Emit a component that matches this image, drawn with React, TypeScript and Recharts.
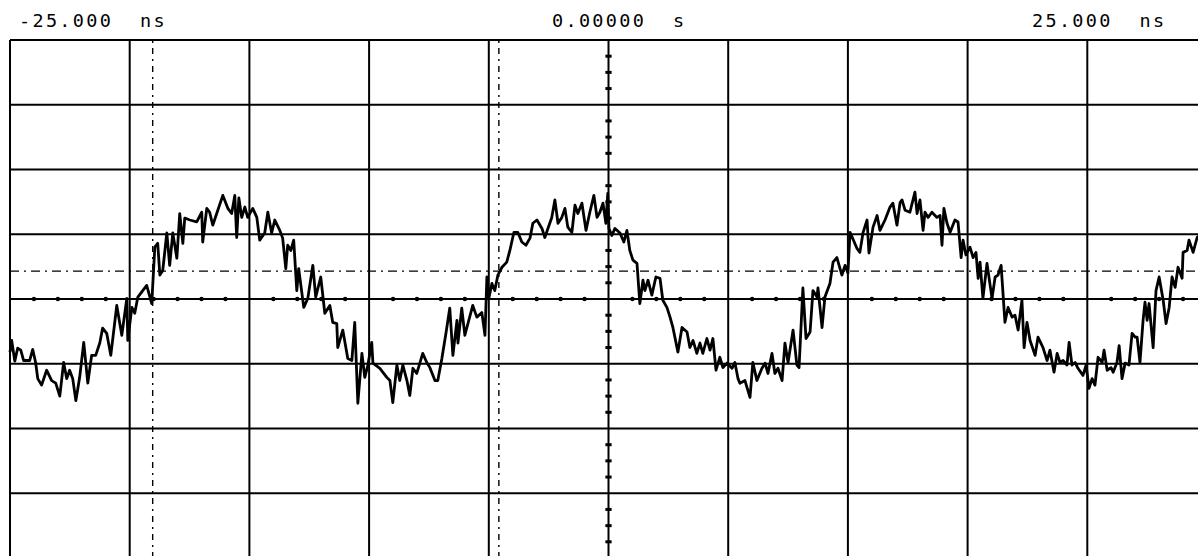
import React from "react";
import { LineChart, Line, XAxis, YAxis, ReferenceLine, ReferenceDot } from "recharts";

// Time base (ns) of each sampled point
const timesNs = [
  -25.0, -24.93, -24.8, -24.68, -24.55, -24.43, -24.18, -24.05, -23.93, -23.84,
  -23.68, -23.47, -23.26, -23.09, -22.92, -22.76, -22.63, -22.51, -22.38, -22.25,
  -22.09, -21.92, -21.75, -21.59, -21.42, -21.25, -21.13, -20.96, -20.79, -20.54,
  -20.33, -20.12, -20.08, -19.91, -19.79, -19.66, -19.29, -19.08, -18.95, -18.83,
  -18.74, -18.62, -18.45, -18.33, -18.2, -18.03, -17.91, -17.78, -17.7, -17.49,
  -17.2, -16.99, -16.95, -16.78, -16.66, -16.53, -16.32, -16.11, -15.9, -15.74,
  -15.61, -15.53, -15.44, -15.32, -15.19, -15.07, -14.86, -14.69, -14.57, -14.36,
  -14.23, -14.07, -13.94, -13.73, -13.61, -13.48, -13.4, -13.27, -13.15, -13.02,
  -12.94, -12.73, -12.56, -12.35, -12.23, -12.02, -11.85, -11.64, -11.52, -11.35,
  -11.31, -11.1, -10.89, -10.72, -10.6, -10.47, -10.3, -10.18, -10.05, -9.89,
  -9.84, -9.55, -9.26, -9.13, -9.01, -8.84, -8.72, -8.59, -8.42, -8.3,
  -8.17, -8.01, -7.88, -7.76, -7.59, -7.46, -7.25, -7.13, -6.96, -6.79,
  -6.63, -6.5, -6.33, -6.29, -6.13, -6.0, -5.67, -5.5, -5.29, -5.16,
  -5.08, -5.0, -4.87, -4.75, -4.62, -4.45, -4.25, -4.12, -3.95, -3.79,
  -3.62, -3.45, -3.28, -3.16, -2.99, -2.78, -2.66, -2.53, -2.37, -2.24,
  -2.11, -1.95, -1.82, -1.7, -1.53, -1.4, -1.28, -1.11, -0.94, -0.78,
  -0.61, -0.48, -0.36, -0.23, -0.11, -0.03, 0.02, 0.14, 0.27, 0.48,
  0.64, 0.77, 0.89, 1.02, 1.19, 1.31, 1.44, 1.52, 1.65, 1.81,
  1.98, 2.15, 2.27, 2.44, 2.57, 2.69, 2.9, 3.07, 3.28, 3.4,
  3.53, 3.69, 3.82, 3.94, 4.11, 4.24, 4.36, 4.49, 4.65, 4.78,
  4.95, 5.16, 5.28, 5.41, 5.49, 5.7, 5.91, 6.03, 6.2, 6.41,
  6.54, 6.66, 6.83, 6.95, 7.08, 7.25, 7.37, 7.5, 7.71, 7.87,
  7.96, 8.12, 8.25, 8.42, 8.54, 8.71, 8.75, 8.92, 9.04, 9.25,
  9.38, 9.54, 9.75, 9.88, 10.0, 10.09, 10.38, 10.5, 10.63, 10.8,
  10.88, 11.05, 11.22, 11.34, 11.55, 11.76, 11.88, 12.05, 12.18, 12.26,
  12.39, 12.59, 12.8, 12.89, 13.01, 13.14, 13.22, 13.35, 13.51, 13.72,
  13.85, 13.93, 14.01, 14.14, 14.27, 14.47, 14.6, 14.73, 14.81, 14.93,
  15.1, 15.23, 15.35, 15.44, 15.52, 15.64, 15.81, 16.02, 16.15, 16.27,
  16.4, 16.56, 16.69, 16.86, 16.98, 17.11, 17.27, 17.36, 17.48, 17.61,
  17.82, 17.94, 18.15, 18.32, 18.44, 18.61, 18.74, 18.86, 18.99, 19.15,
  19.24, 19.36, 19.49, 19.61, 19.82, 19.95, 20.07, 20.2, 20.32, 20.45,
  20.62, 20.7, 20.83, 20.99, 21.08, 21.24, 21.33, 21.45, 21.58, 21.74,
  21.87, 22.0, 22.08, 22.2, 22.33, 22.41, 22.5, 22.58, 22.75, 22.87,
  23.0, 23.17, 23.29, 23.42, 23.54, 23.67, 23.79, 23.96, 24.0, 24.17,
  24.25, 24.42, 24.5, 24.59, 24.84, 24.97,
];

// Signal amplitude (divisions) at each time
const signalDiv = [
  -0.82, -0.64, -0.96, -0.76, -0.79, -0.95, -0.95, -0.78, -0.98, -1.23,
  -1.33, -1.1, -1.26, -1.3, -1.5, -0.98, -1.23, -1.1, -1.23, -1.57,
  -1.21, -0.67, -1.3, -0.87, -0.87, -0.68, -0.45, -0.53, -0.87, -0.1,
  -0.56, 0.01, -0.64, -0.13, -0.22, 0.03, 0.21, -0.07, 0.8, 0.86,
  0.37, 0.44, 1.02, 0.52, 1.02, 0.63, 1.32, 0.86, 1.25, 1.22,
  1.19, 1.34, 0.88, 1.4, 1.34, 1.14, 1.37, 1.6, 1.4, 1.32,
  1.6, 0.95, 1.56, 1.26, 1.42, 1.26, 1.4, 1.26, 0.91, 1.02,
  1.34, 1.02, 1.22, 1.06, 0.94, 0.47, 0.83, 0.75, 0.91, 0.13,
  0.47, -0.13, 0.01, 0.52, 0.03, 0.34, -0.22, -0.1, -0.36, -0.38,
  -0.75, -0.48, -0.92, -0.95, -0.36, -1.61, -0.84, -1.21, -1.02, -0.67,
  -0.99, -1.07, -1.21, -1.26, -1.6, -1.02, -1.26, -1.02, -1.26, -1.49,
  -1.07, -1.15, -0.99, -0.84, -0.98, -1.06, -1.26, -1.26, -0.92, -0.53,
  -0.14, -0.87, -0.33, -0.68, -0.14, -0.56, -0.1, -0.28, -0.21, -0.56,
  0.34, 0.01, 0.24, 0.13, 0.37, 0.49, 0.57, 0.75, 1.03, 1.03,
  0.88, 0.83, 0.94, 1.17, 1.22, 1.09, 0.95, 1.09, 1.26, 1.53,
  1.17, 1.26, 1.4, 1.11, 1.03, 1.45, 1.32, 1.48, 1.06, 1.34,
  1.6, 1.26, 1.34, 1.48, 1.17, 1.63, 1.09, 0.98, 1.09, 1.02,
  0.88, 1.06, 0.75, 0.6, 0.55, -0.07, 0.29, 0.13, 0.29, 0.06,
  0.34, 0.32, -0.02, -0.13, -0.28, -0.44, -0.82, -0.44, -0.51, -0.75,
  -0.64, -0.84, -0.68, -0.84, -0.61, -0.79, -0.61, -1.1, -0.9, -1.06,
  -0.99, -1.07, -0.98, -1.23, -1.3, -1.26, -1.52, -0.98, -1.26, -1.07,
  -0.99, -1.15, -0.84, -1.15, -1.07, -1.26, -0.68, -0.98, -0.48, -1.02,
  -1.06, 0.17, -0.61, -0.51, 0.13, 0.03, 0.17, -0.44, 0.03, 0.24,
  0.57, 0.64, 0.37, 0.52, 0.4, 1.03, 0.78, 0.72, 1.02, 1.22,
  0.71, 1.11, 1.29, 1.06, 1.22, 1.42, 1.48, 1.14, 1.49, 1.53,
  1.37, 1.34, 1.65, 1.32, 1.53, 1.06, 1.34, 1.26, 1.34, 1.26,
  1.29, 0.83, 1.4, 1.17, 1.03, 1.22, 1.19, 0.64, 0.91, 0.68,
  0.8, 0.64, 0.72, 0.32, 0.57, 0.01, 0.55, 0.01, 0.34, 0.37,
  0.52, -0.36, -0.13, -0.28, -0.25, -0.48, -0.02, -0.75, -0.36, -0.64,
  -0.87, -0.59, -0.75, -0.95, -0.79, -1.13, -0.84, -0.98, -0.95, -1.02,
  -0.67, -1.02, -0.98, -1.07, -1.18, -1.02, -1.38, -1.23, -1.33, -0.9,
  -0.98, -0.79, -1.1, -1.06, -1.13, -0.98, -0.72, -1.23, -0.99, -1.02,
  -0.53, -0.59, -0.59, -0.98, -0.33, -0.05, -0.33, -0.07, -0.75, 0.13,
  0.34, -0.02, -0.38, -0.13, 0.34, 0.18, 0.49, 0.32, 0.72, 0.75,
  0.91, 0.72, 0.83, 0.95, 1.02, 0.94,
];

// Graticule
const xDivisionsNs = [-25, -20, -15, -10, -5, 0, 5, 10, 15, 20, 25];
const yDivisions = [-4, -3, -2, -1, 0, 1, 2, 3, 4];
// Marker cursors
const cursorTimesNs = [-19.04, -4.58];
const cursorLevelDiv = 0.43;
// Header labels
const leftLabel = ["-25.000", "ns"];
const centerLabel = ["0.00000", "s"];
const rightLabel = ["25.000", "ns"];

const data = timesNs.map((t, i) => ({ t, v: signalDiv[i] }));

const xMinor: number[] = [];
for (let k = -24; k <= 24; k++) if (k % 5 !== 0) xMinor.push(k);
const yMinor: number[] = [];
for (let k = -15; k <= 15; k++) if (k % 4 !== 0) yMinor.push(k * 0.25);

const FONT = "'DejaVu Sans Mono', monospace";
const PITCH = 13.44;

function Header({ x, parts, gap }: { x: number; parts: string[]; gap: number }) {
  return (
    <g>
      <text x={x} y={26.7} fontFamily={FONT} fontSize={18.5} letterSpacing={2.3} fill="#000">
        {parts[0]}
      </text>
      <text x={x + gap * PITCH} y={26.7} fontFamily={FONT} fontSize={18.5} letterSpacing={2.3} fill="#000">
        {parts[1]}
      </text>
    </g>
  );
}

export default function App() {
  return (
    <div
      style={{
        position: "fixed",
        left: 0,
        top: 0,
        width: 1198,
        height: 556,
        overflow: "hidden",
        background: "#fff",
      }}
    >
      <LineChart width={1207} height={558} data={data} margin={{ top: 40, left: 10, right: 0, bottom: 0 }}>
        <XAxis type="number" dataKey="t" domain={[-25, 25]} hide />
        <YAxis type="number" domain={[-4, 4]} hide />
        {xDivisionsNs.map((x) => (
          <ReferenceLine key={"vx" + x} x={x} stroke="#000" strokeWidth={2} ifOverflow="visible" />
        ))}
        {yDivisions.map((y) => (
          <ReferenceLine key={"hy" + y} y={y} stroke="#000" strokeWidth={2} ifOverflow="visible" />
        ))}
        {cursorTimesNs.map((x) => (
          <ReferenceLine key={"cx" + x} x={x} stroke="#000" strokeWidth={1.4} strokeDasharray="6 5 2 5" />
        ))}
        <ReferenceLine y={cursorLevelDiv} stroke="#000" strokeWidth={1.4} strokeDasharray="9 5 2 5" />
        {xMinor.map((x) => (
          <ReferenceDot key={"dx" + x} x={x} y={0} r={2.2} fill="#000" stroke="none" />
        ))}
        {yMinor.map((y) => (
          <ReferenceLine
            key={"ty" + y}
            segment={[
              { x: -0.13, y },
              { x: 0.13, y },
            ]}
            stroke="#000"
            strokeWidth={3}
          />
        ))}
        <Line
          type="linear"
          dataKey="v"
          stroke="#000"
          strokeWidth={2.8}
          dot={false}
          isAnimationActive={false}
          strokeLinejoin="round"
        />
      </LineChart>
      <svg
        width={1198}
        height={40}
        style={{ position: "absolute", left: 0, top: 0, pointerEvents: "none" }}
      >
        <Header x={19} parts={leftLabel} gap={9} />
        <Header x={552} parts={centerLabel} gap={9} />
        <Header x={1032} parts={rightLabel} gap={8} />
      </svg>
    </div>
  );
}
